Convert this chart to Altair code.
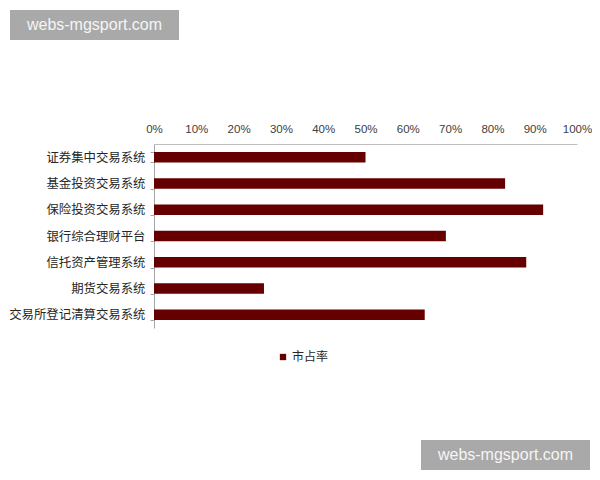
import altair as alt
import pandas as pd

categories = ["证券集中交易系统", "基金投资交易系统", "保险投资交易系统", "银行综合理财平台",
              "信托资产管理系统", "期货交易系统", "交易所登记清算交易系统"]
share = [0.50, 0.83, 0.92, 0.69, 0.88, 0.26, 0.64]
series_name = "市占率"
x_ticks = [0, 0.1, 0.2, 0.3, 0.4, 0.5, 0.6, 0.7, 0.8, 0.9, 1.0]
watermark = "webs-mgsport.com"

df = pd.DataFrame({"cat": categories, "share": share, "series": [series_name] * len(categories)})

bars = alt.Chart(df).mark_bar(color="#660000").encode(
    y=alt.Y("cat:N", sort=categories, title=None,
            scale=alt.Scale(paddingInner=0.6, paddingOuter=0.3),
            axis=alt.Axis(orient="left", tickBand="extent", tickSize=4, tickColor="#a6a6a6",
                          domainColor="#a6a6a6", labelFont="Noto Sans CJK SC", labelFontSize=12.4,
                          labelColor="#262626", labelPadding=5, grid=False)),
    x=alt.X("share:Q", title=None,
            scale=alt.Scale(domain=[0, 1], nice=False),
            axis=alt.Axis(orient="top", values=x_ticks, format=".0%", ticks=False,
                          domainColor="#bfbfbf", labelFont="Liberation Sans", labelFontSize=11.5,
                          labelColor="#404040", labelPadding=10, grid=False, labelFlush=False)),
    color=alt.Color("series:N", title=None,
                    scale=alt.Scale(range=["#660000"]),
                    legend=alt.Legend(orient="none", legendX=123, legendY=207,
                                      symbolType="square", symbolSize=40, symbolStrokeWidth=0,
                                      labelFont="Noto Sans CJK SC", labelFontSize=12,
                                      labelColor="#262626", labelOffset=3)),
)

wm = pd.DataFrame({"t": [watermark]})
wm_base = alt.Chart(wm)
wm1_rect = wm_base.mark_rect(color="#a9a9a9").encode(
    x=alt.value(-144), x2=alt.value(25), y=alt.value(-134), y2=alt.value(-104))
wm1_text = wm_base.mark_text(color="#f5f5f5", font="Liberation Sans", fontSize=16,
                             align="center", baseline="middle").encode(
    text="t:N", x=alt.value(-59.5), y=alt.value(-119))
wm2_rect = wm_base.mark_rect(color="#a9a9a9").encode(
    x=alt.value(267), x2=alt.value(436), y=alt.value(296), y2=alt.value(326))
wm2_text = wm_base.mark_text(color="#f5f5f5", font="Liberation Sans", fontSize=16,
                             align="center", baseline="middle").encode(
    text="t:N", x=alt.value(351.5), y=alt.value(311))

chart = alt.layer(bars, wm1_rect, wm1_text, wm2_rect, wm2_text).properties(
    width=423, height=184,
    autosize=alt.AutoSizeParams(type="none"),
    padding={"left": 146, "top": 136, "right": 15, "bottom": 144},
).configure_view(stroke=None)

chart.save("out.html", embed_options={"renderer": "svg", "actions": False})
